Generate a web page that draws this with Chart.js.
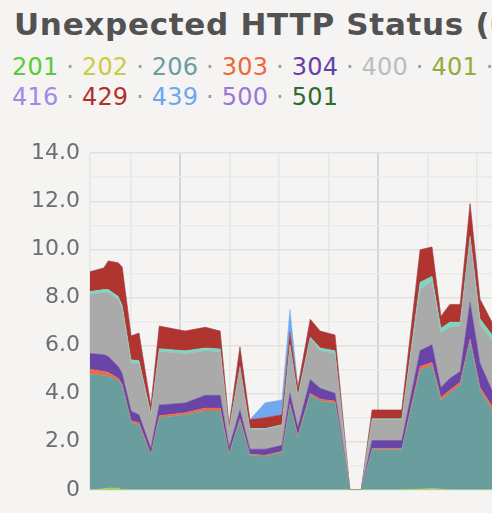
<!DOCTYPE html>
<html>
<head>
<meta charset="utf-8">
<script src="https://cdn.jsdelivr.net/npm/chart.js@4.4.1/dist/chart.umd.min.js"></script>
<style>
  html, body { margin: 0; padding: 0; overflow: hidden; background: #f5f4f2; width: 492px; height: 513px; }
  #title {
    position: absolute; left: 14px; top: 6px; white-space: nowrap;
    font: bold 31px "DejaVu Sans", sans-serif; color: #525252; letter-spacing: 0.7px;
  }
  #legend {
    position: absolute; left: 12px; top: 52px;
    font: 24px "DejaVu Sans", sans-serif; line-height: 30px; letter-spacing: 0.2px;
  }
  #legend div { white-space: nowrap; }
  #legend .sep { color: #9a9a9a; }
  #wrap { position: absolute; left: 0; top: 130px; }
</style>
</head>
<body>
<div id="title">Unexpected HTTP Status (0-5xx)</div>
<div id="legend"></div>
<div id="wrap"><canvas id="statusChart" width="586" height="383"></canvas></div>
<script>
// x positions in hours (0 = first dark gridline)
const hours = [-1.82, -1.54, -1.45, -1.25, -1.17, -0.99, -0.83, -0.59, -0.42, 0.10,
  0.51, 0.81, 0.99, 1.21, 1.41, 1.72, 2.06, 2.22, 2.38, 2.63,
  2.83, 3.13, 3.43, 3.66, 3.88, 4.48, 4.85, 5.09, 5.27, 5.45,
  5.66, 5.86, 6.06, 6.30, 6.57, 6.87, 7.27, 7.68, 8.00];

const s201 = [0, 0, 0.03, 0.03, 0, 0, 0, 0, 0, 0, 0, 0, 0, 0, 0, 0, 0, 0, 0, 0,
  0, 0, 0, 0, 0, 0, 0, 0, 0, 0, 0, 0, 0, 0, 0, 0, 0, 0, 0];
const s202 = [0, 0.04, 0.05, 0.04, 0, 0, 0, 0, 0, 0, 0, 0, 0, 0, 0, 0, 0, 0, 0, 0,
  0, 0, 0, 0, 0, 0, 0.03, 0.04, 0.03, 0, 0, 0, 0, 0, 0, 0, 0, 0, 0];
const s206 = [4.80, 4.72, 4.64, 4.49, 4.31, 2.79, 2.71, 1.44, 3.00, 3.12,
  3.28, 3.28, 1.48, 2.87, 1.44, 1.40, 1.56, 3.49, 2.18, 3.94,
  3.69, 3.61, 0, 0, 1.68, 1.68, 4.94, 5.13, 3.69, 4.02,
  4.35, 6.16, 4.15, 3.33, 3.60, 4.10, 3.80, 4.30, 3.90];
const s303 = [0.21, 0.16, 0.16, 0.08, 0.08, 0.08, 0.08, 0.04, 0.08, 0.08,
  0.12, 0.12, 0.04, 0.08, 0.04, 0.04, 0.04, 0.08, 0.08, 0.08,
  0.08, 0.08, 0, 0, 0.04, 0.04, 0.16, 0.12, 0.12, 0.12,
  0.12, 0.12, 0.12, 0.16, 0.12, 0.12, 0.12, 0.12, 0.12];
const s304 = [0.66, 0.70, 0.66, 0.49, 0.45, 0.41, 0.33, 0.25, 0.45, 0.41,
  0.53, 0.53, 0.25, 0.37, 0.21, 0.25, 0.25, 0.45, 0.33, 0.57,
  0.45, 0.33, 0, 0, 0.33, 0.33, 0.66, 0.74, 0.41, 0.49,
  0.45, 1.52, 0.99, 0.66, 0.60, 0.70, 0.60, 0.65, 0.60];
const s400 = [2.46, 2.59, 2.67, 2.79, 2.67, 1.97, 2.13, 1.35, 2.22, 2.05,
  1.85, 1.81, 0.70, 1.72, 0.82, 0.82, 0.82, 1.93, 1.23, 1.68,
  1.56, 1.64, 0, 0, 0.86, 0.86, 2.55, 2.63, 2.26, 2.13,
  1.89, 2.59, 1.64, 2.05, 2.00, 2.20, 1.90, 2.10, 2.00];
const s404 = [0.12, 0.12, 0.12, 0.12, 0.16, 0.16, 0.12, 0.08, 0.12, 0.12,
  0.12, 0.12, 0.04, 0.08, 0.04, 0.04, 0.04, 0.08, 0.08, 0.08,
  0.12, 0.12, 0, 0, 0.04, 0.04, 0.29, 0.21, 0.21, 0.21,
  0.16, 0.16, 0.21, 0.25, 0.20, 0.20, 0.20, 0.20, 0.20];
const s429 = [0.82, 0.90, 1.19, 1.40, 1.60, 0.99, 1.15, 0.33, 0.94, 0.82,
  0.86, 0.74, 0.16, 0.82, 0.37, 0.45, 0.41, 0.53, 0.33, 0.74,
  0.70, 0.66, 0, 0, 0.37, 0.37, 1.35, 1.23, 0.49, 0.74,
  0.74, 1.35, 0.82, 0.53, 0.60, 0.70, 0.60, 0.70, 0.60];
const s439 = [0, 0, 0, 0, 0, 0, 0, 0, 0, 0,
  0, 0, 0, 0, 0, 0.62, 0.62, 0.94, 0.08, 0,
  0, 0, 0, 0, 0, 0, 0, 0, 0, 0,
  0, 0, 0, 0, 0, 0, 0, 0, 0];

// legend rows as they wrap in the original
const legendRow1 = ["201", "202", "206", "303", "304", "400", "401", "403", "404"];
const legendRow2 = ["416", "429", "439", "500", "501"];
const legendColors = {
  "201": "#55cc3a", "202": "#cccc44", "206": "#6a9e9e", "303": "#f0663e", "304": "#6640a8",
  "400": "#bdbdbd", "401": "#98a83a", "403": "#e0a040", "404": "#6fd8bc", "416": "#a08ae6",
  "429": "#b3302b", "439": "#6ea6f0", "500": "#9a78d8", "501": "#2f6a2f"
};

const stackCodes = ["201", "202", "206", "303", "304", "400", "404", "429", "439"];
const stackValues = [s201, s202, s206, s303, s304, s400, s404, s429, s439];
const fillColors = ["#55cc3a", "#cccc44", "#6a9e9e", "#ee6a48", "#6a45a8", "#aaaaaa", "#7ad8c0", "#b03530", "#72a8ee"];

const yTicks = [0, 2, 4, 6, 8, 10, 12, 14];
const xGrid = [-1, 0, 1, 2, 3, 4, 5, 6, 7, 8];

// legend as plain text
const sep = '<span class="sep"> · </span>';
const rowHtml = row => row.map(c => `<span style="color:${legendColors[c]}">${c}</span>`).join(sep);
document.getElementById("legend").innerHTML =
  `<div>${rowHtml(legendRow1)}${sep}</div><div>${rowHtml(legendRow2)}</div>`;

const datasets = stackCodes.map((code, i) => ({
  label: code,
  data: hours.map((h, j) => ({ x: h, y: stackValues[i][j] })),
  backgroundColor: fillColors[i],
  borderColor: fillColors[i],
  borderWidth: 0.5,
  pointRadius: 0,
  tension: 0,
  fill: i === 0 ? "origin" : "-1"
}));

new Chart(document.getElementById("statusChart"), {
  type: "line",
  data: { datasets: datasets },
  options: {
    responsive: false,
    animation: false,
    layout: { padding: { top: 22, bottom: 20, right: 10, left: 0 } },
    plugins: { legend: { display: false }, tooltip: { enabled: false } },
    scales: {
      x: {
        type: "linear",
        min: -1.82,
        max: 8,
        afterBuildTicks: scale => {
          scale.ticks = [-1.82].concat(xGrid).map(v => ({ value: v }));
        },
        afterFit: scale => { scale.height = 0; },
        ticks: { display: false },
        border: { display: false },
        grid: {
          drawTicks: false,
          color: ctx => (ctx.tick && ctx.tick.value % 4 === 0) ? "#d6d6d6" : "#e6e6e6",
          lineWidth: ctx => (ctx.tick && ctx.tick.value % 4 === 0) ? 2 : 1.5
        }
      },
      y: {
        stacked: true,
        min: 0,
        max: 14,
        afterFit: scale => { scale.width = 90; },
        afterBuildTicks: scale => {
          const all = [];
          for (let v = 0; v <= 14; v++) all.push({ value: v });
          scale.ticks = all;
        },
        border: { display: false },
        grid: {
          drawTicks: false,
          color: ctx => (ctx.tick && ctx.tick.value % 2 === 0) ? "#e0e0e0" : "#ebebeb",
          lineWidth: 1.5
        },
        ticks: {
          padding: 10,
          color: "#6e6e6e",
          font: { family: "DejaVu Sans", size: 22 },
          autoSkip: false,
          callback: v => yTicks.includes(v) ? (v === 0 ? "0" : v.toFixed(1)) : ""
        }
      }
    }
  }
});
</script>
</body>
</html>
